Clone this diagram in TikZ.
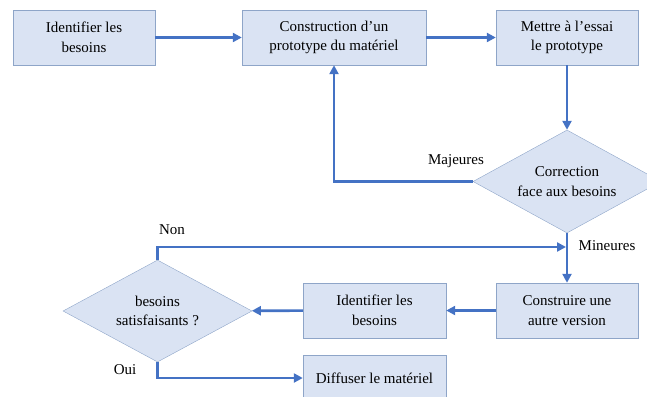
\documentclass[tikz,border=0pt]{standalone}
\usepackage{fontspec}
\setmainfont{Liberation Serif}
\usetikzlibrary{shapes.geometric,arrows.meta}
\definecolor{boxfill}{HTML}{DAE3F3}
\definecolor{boxline}{HTML}{8EA5C8}
\definecolor{flow}{HTML}{4472C4}
\begin{document}
\begin{tikzpicture}[x=1pt, y=-1pt, font=\fontsize{15}{19.5}\selectfont]
    \tikzstyle{etape}=[draw=boxline, fill=boxfill, minimum width=142pt, minimum height=55pt, align=center, inner sep=0pt]
    \tikzstyle{choix}=[diamond, aspect=1.8, draw=boxline, fill=boxfill, align=center, inner sep=0pt]
    \tikzstyle{fleche}=[draw=flow, line width=2.6pt, -{Triangle[length=9pt, width=9pt]}]
    \useasboundingbox (0,0) rectangle (647,396);
        \node[etape] (ident) at (84,37.5) {Identifier les\\besoins};
        \node[etape, minimum width=184pt] (proto) at (334,37.5) {Construction d'un\\prototype du matériel};
        \node[etape] (essai) at (567,37.5) {Mettre à l'essai\\le prototype};
        \node[choix, minimum width=188pt, minimum height=103pt] (corr) at (567,181.5) {Correction\\face aux besoins};
        \node[etape] (autre) at (567,310.5) {Construire une\\autre version};
        \node[etape, minimum width=143pt] (ident2) at (374.5,310.5) {Identifier les\\besoins};
        \node[choix, minimum width=189pt, minimum height=102pt] (satis) at (157.5,311) {besoins\\satisfaisants ?};
        \node[etape, minimum width=143pt, minimum height=46pt] (diff) at (374.5,378) {Diffuser le matériel};
        \coordinate (jonction) at (566,247);
        \draw[fleche] (ident) -- (proto);
        \draw[fleche] (proto) -- (essai);
        \draw[fleche] (essai) -- (corr);
        \draw[fleche] (corr.west) -| (proto.south);
        \draw[fleche] (corr.south) -- (autre.north);
        \draw[fleche] (satis.north) |- (jonction);
        \draw[fleche] (autre) -- (ident2);
        \draw[fleche] (ident2) -- (satis);
        \draw[fleche] (satis.south) |- (diff.west);
        \node (majeures) at (456,161) {Majeures};
        \node (mineures) at (607,246) {Mineures};
        \node (non) at (172,230) {Non};
        \node (oui) at (125,370) {Oui};
    \end{tikzpicture}
\end{document}
